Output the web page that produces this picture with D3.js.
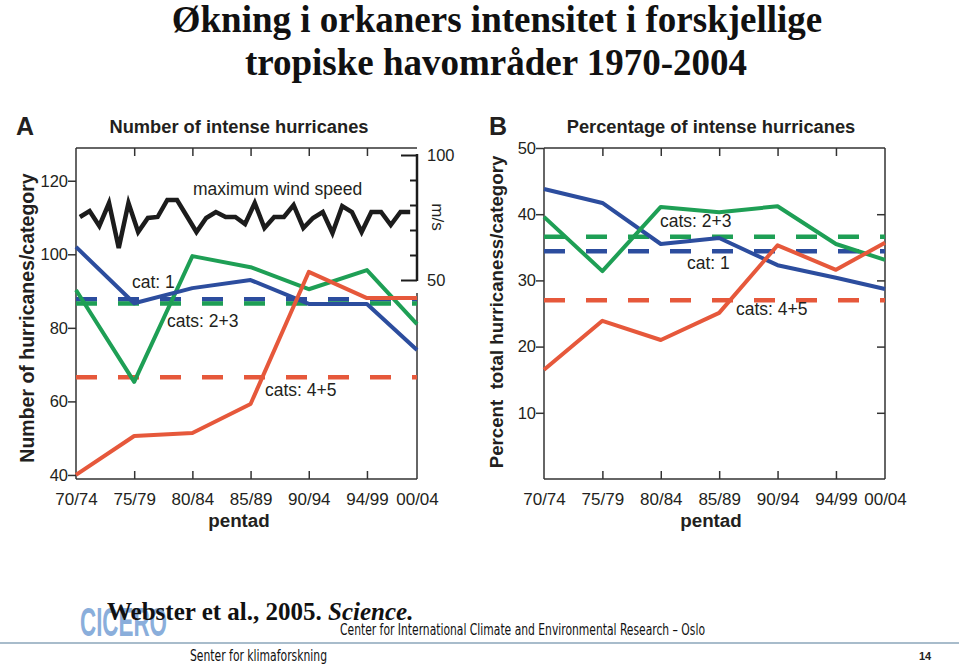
<!DOCTYPE html>
<html>
<head>
<meta charset="utf-8">
<script src="https://cdn.jsdelivr.net/npm/d3@7"></script>
<style>
  body { margin: 0; background: #fff; }
  text { font-family: "Liberation Sans", Arial, sans-serif; }
</style>
</head>
<body>
<div id="chart"></div>
<script>
// Pentads on the x axis
var pentads = ["70/74", "75/79", "80/84", "85/89", "90/94", "94/99", "00/04"];

// Panel A: number of hurricanes per category
var countCat1 = [102, 86.7, 90.8, 93, 86.5, 86.5, 74];
var countCat23 = [90.3, 65.3, 99.5, 96.5, 90.5, 95.7, 81];
var countCat45 = [40, 50.6, 51.4, 59.3, 95.2, 88.1, 88.1];
var countMean = [87.8, 86.6, 66.6];          // cat 1, cats 2+3, cats 4+5
var countTicks = [40, 60, 80, 100, 120];

// Panel A: yearly maximum wind speed (m/s)
var windYears = d3.range(1970, 2005);
var windSpeed = [75.2, 77.6, 71.6, 80.8, 62.8, 80.8, 69.2, 74.8, 75.2, 82,
                 82, 75.6, 69.2, 74.8, 77.2, 75.2, 75.2, 72.4, 80.8, 70.8,
                 75.2, 75.2, 80, 70.8, 74.8, 77.2, 68.8, 79.6, 77.2, 69.2,
                 77.2, 77.2, 72, 77.2, 77.2];
var windTicks = [50, 60, 70, 80, 90, 100];

// Panel B: percentage of total hurricanes per category
var pctCat1 = [43.8, 41.7, 35.5, 36.4, 32.3, 30.4, 28.7];
var pctCat23 = [39.6, 31.4, 41.1, 40.3, 41.2, 35.5, 33.1];
var pctCat45 = [16.5, 23.9, 21, 25.1, 35.3, 31.6, 35.7];
var pctMean = [34.4, 36.6, 27];
var pctTicks = [10, 20, 30, 40, 50];

var colors = { cat1: "#2c4d9e", cat23: "#1e9f55", cat45: "#e6583b", wind: "#1c1c1c" };
var ink = "#231f20";

var svgWidth = 959;
var svgHeight = 668;

var svg = d3.select("#chart")
  .append("svg")
  .attr("width", svgWidth)
  .attr("height", svgHeight);

svg.append("rect").attr("width", svgWidth).attr("height", svgHeight).attr("fill", "#fff");

// Main title
var title = svg.append("text")
  .attr("text-anchor", "middle")
  .style("font-family", "'Liberation Serif', 'Times New Roman', serif")
  .style("font-weight", "bold")
  .style("font-size", "37px")
  .style("fill", "#111");
title.append("tspan").attr("x", 497).attr("y", 32).text("Økning i orkaners intensitet i forskjellige");
title.append("tspan").attr("x", 496).attr("y", 75).text("tropiske havområder 1970-2004");

// Draw one panel
function drawPanel(cfg) {
  var left = cfg.left, right = cfg.right, top = 148, bottom = 479;
  var g = svg.append("g");

  // last pentad sits on the right frame, so clamp the index scale
  var x = d3.scaleLinear().domain([0, cfg.xSpan]).range([left, right]).clamp(true);
  var y = d3.scaleLinear().domain(cfg.yDomain).range([bottom, top]);

  // frame
  g.append("line").attr("x1", left).attr("x2", right).attr("y1", top).attr("y2", top);
  g.append("line").attr("x1", left).attr("x2", right).attr("y1", bottom).attr("y2", bottom);
  g.append("line").attr("x1", left).attr("x2", left).attr("y1", top).attr("y2", bottom);
  g.append("line").attr("x1", right).attr("x2", right).attr("y1", cfg.rightFrameTop).attr("y2", bottom);
  g.selectAll("line").attr("stroke", "#333").attr("stroke-width", 1.5);

  var inner = d3.range(1, pentads.length - 1);

  // left axis
  var yAxis = g.append("g")
    .attr("transform", "translate(" + left + ",0)")
    .call(d3.axisLeft(y).tickValues(cfg.yTicks).tickSize(8).tickPadding(0));
  yAxis.select(".domain").remove();
  yAxis.selectAll("line").attr("stroke", "#333").attr("stroke-width", 1.5);
  yAxis.selectAll("text").style("font-size", "16.5px").style("fill", ink)
    .style("font-family", "'Liberation Sans', Arial, sans-serif");

  // top ticks (inward)
  var topAxis = g.append("g")
    .attr("transform", "translate(0," + top + ")")
    .call(d3.axisTop(x).tickValues(inner).tickSize(-8).tickFormat(""));
  topAxis.select(".domain").remove();
  topAxis.selectAll("line").attr("stroke", "#333").attr("stroke-width", 1.5);

  // bottom axis with pentad labels
  var xAxis = g.append("g")
    .attr("transform", "translate(0," + bottom + ")")
    .call(d3.axisBottom(x).tickValues(d3.range(pentads.length)).tickSize(-8).tickPadding(14)
      .tickFormat(function(i) { return pentads[i]; }));
  xAxis.select(".domain").remove();
  xAxis.selectAll("line").attr("stroke", "#333").attr("stroke-width", 1.5)
    .attr("opacity", function(i) { return (i === 0 || i === pentads.length - 1) ? 0 : 1; });
  xAxis.selectAll("text").style("font-size", "17px").style("fill", ink)
    .style("font-family", "'Liberation Sans', Arial, sans-serif");

  // right ticks for panel B
  if (cfg.rightTicks) {
    var rAxis = g.append("g")
      .attr("transform", "translate(" + right + ",0)")
      .call(d3.axisRight(y).tickValues(cfg.rightTicks).tickSize(-8).tickFormat(""));
    rAxis.select(".domain").remove();
    rAxis.selectAll("line").attr("stroke", "#333").attr("stroke-width", 1.5);
  }

  // dashed means
  var meanKeys = ["cat1", "cat23", "cat45"];
  cfg.means.forEach(function(m, k) {
    g.append("line")
      .attr("x1", left).attr("x2", right)
      .attr("y1", y(m)).attr("y2", y(m))
      .attr("stroke", colors[meanKeys[k]])
      .attr("stroke-width", 4.5)
      .attr("stroke-dasharray", "21,21");
  });

  // solid series
  var line = d3.line()
    .x(function(d, i) { return x(i); })
    .y(function(d) { return y(d); });

  cfg.series.forEach(function(s) {
    g.append("path")
      .datum(s.values)
      .attr("d", line)
      .attr("fill", "none")
      .attr("stroke", colors[s.key])
      .attr("stroke-width", 4)
      .attr("stroke-linejoin", "round");
  });

  // annotations
  cfg.labels.forEach(function(l) {
    g.append("text").attr("x", l[1]).attr("y", l[2])
      .style("font-size", "17.5px").style("fill", ink).text(l[0]);
  });

  // panel letter and title
  g.append("text").attr("x", cfg.letterX).attr("y", 135)
    .style("font-size", "25px").style("font-weight", "bold").style("fill", ink).text(cfg.letter);
  g.append("text").attr("x", cfg.titleX).attr("y", 133).attr("text-anchor", "middle")
    .style("font-size", "18.3px").style("font-weight", "bold").style("fill", ink).text(cfg.title);

  // axis titles
  g.append("text")
    .attr("transform", "translate(" + cfg.yLabelX + "," + cfg.yLabelY + ") rotate(-90)")
    .attr("text-anchor", "middle")
    .style("font-size", cfg.yLabelSize).style("font-weight", "bold").style("fill", ink)
    .style("white-space", "pre")
    .text(cfg.yLabel);
  g.append("text").attr("x", cfg.pentadX).attr("y", 527).attr("text-anchor", "middle")
    .style("font-size", "18.8px").style("font-weight", "bold").style("fill", ink).text("pentad");

  return { g: g, x: x, y: y };
}

// Panel A
var panelA = drawPanel({
  left: 76, right: 417, xSpan: 5.86, rightFrameTop: 293,
  yDomain: [38.9, 128.9], yTicks: countTicks,
  means: countMean,
  series: [
    { key: "cat23", values: countCat23 },
    { key: "cat1", values: countCat1 },
    { key: "cat45", values: countCat45 }
  ],
  labels: [["maximum wind speed", 193, 195], ["cat: 1", 132, 288], ["cats: 2+3", 167, 327], ["cats: 4+5", 265, 396]],
  letter: "A", letterX: 16, title: "Number of intense hurricanes", titleX: 239,
  yLabel: "Number of hurricanes/category", yLabelX: 34, yLabelY: 318, yLabelSize: "19.5px",
  pentadX: 239
});

// Wind speed on its own right-hand axis (m/s)
var windY = d3.scaleLinear().domain([50, 100]).range([280, 155]);
var windX = d3.scaleLinear().domain([1969.6, 2004.7]).range([76, 417]);

var windAxis = panelA.g.append("g")
  .attr("transform", "translate(417,0)")
  .call(d3.axisLeft(windY).tickValues(windTicks).tickSize(7).tickFormat(""));
windAxis.select(".domain").remove();
windAxis.selectAll("line").attr("stroke", "#1c1c1c").attr("stroke-width", 2)
  .attr("x2", function(d) { return (d === 50 || d === 100) ? -16 : -7; });
panelA.g.append("line")
  .attr("x1", 417).attr("x2", 417).attr("y1", windY(100) - 1).attr("y2", windY(50) + 1)
  .attr("stroke", "#1c1c1c").attr("stroke-width", 2.5);
[100, 50].forEach(function(v) {
  panelA.g.append("text").attr("x", 427).attr("y", windY(v)).attr("dy", "0.35em")
    .style("font-size", "16.5px").style("fill", ink).text(v);
});
panelA.g.append("text")
  .attr("transform", "translate(432,217) rotate(90)")
  .attr("text-anchor", "middle")
  .style("font-size", "17px").style("fill", ink).text("m/s");

panelA.g.append("path")
  .datum(windSpeed)
  .attr("d", d3.line()
    .x(function(d, i) { return windX(windYears[i]); })
    .y(function(d) { return windY(d); }))
  .attr("fill", "none")
  .attr("stroke", colors.wind)
  .attr("stroke-width", 4.5)
  .attr("stroke-linejoin", "miter");

// Panel B
drawPanel({
  left: 544, right: 885, xSpan: 5.84, rightFrameTop: 148,
  yDomain: [0, 50], yTicks: pctTicks, rightTicks: [10, 20, 30, 40],
  means: pctMean,
  series: [
    { key: "cat1", values: pctCat1 },
    { key: "cat23", values: pctCat23 },
    { key: "cat45", values: pctCat45 }
  ],
  labels: [["cats: 2+3", 660, 227], ["cat: 1", 687, 269], ["cats: 4+5", 736, 315]],
  letter: "B", letterX: 489, title: "Percentage of intense hurricanes", titleX: 711,
  yLabel: "Percent  total hurricaness/category", yLabelX: 503, yLabelY: 312, yLabelSize: "18.7px",
  pentadX: 711
});

// Footer
svg.append("text").attr("x", 80).attr("y", 636)
  .attr("textLength", 87).attr("lengthAdjust", "spacingAndGlyphs")
  .style("font-size", "41px").style("font-weight", "bold").style("fill", "#8aaedb")
  .text("CICERO");

var cite = svg.append("text").attr("x", 107).attr("y", 620)
  .style("font-family", "'Liberation Serif', 'Times New Roman', serif")
  .style("font-weight", "bold").style("font-size", "25px").style("fill", "#111");
cite.append("tspan").text("Webster et al., 2005. ");
cite.append("tspan").style("font-style", "italic").text("Science.");

svg.append("text").attr("x", 340).attr("y", 635)
  .attr("textLength", 365).attr("lengthAdjust", "spacingAndGlyphs")
  .style("font-family", "'Liberation Sans Narrow', 'DejaVu Sans Condensed', sans-serif")
  .style("font-size", "16px").style("fill", "#111")
  .text("Center for International Climate and Environmental Research – Oslo");

svg.append("line").attr("x1", 0).attr("x2", 959).attr("y1", 643).attr("y2", 643)
  .attr("stroke", "#a8bccb").attr("stroke-width", 2);

svg.append("text").attr("x", 190).attr("y", 661)
  .attr("textLength", 137).attr("lengthAdjust", "spacingAndGlyphs")
  .style("font-family", "'Liberation Sans Narrow', 'DejaVu Sans Condensed', sans-serif")
  .style("font-size", "16px").style("fill", "#111")
  .text("Senter for klimaforskning");

svg.append("text").attr("x", 919).attr("y", 660)
  .style("font-size", "11px").style("font-weight", "bold").style("fill", "#222")
  .text("14");
</script>
</body>
</html>
